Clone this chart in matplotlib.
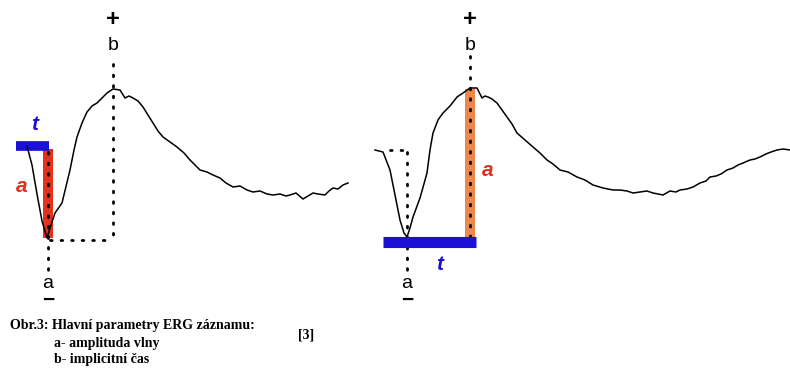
import numpy as np
import matplotlib.pyplot as plt

# ERG traces, traced in figure pixel units (x right, y down)
left_x = [27, 32, 37, 42, 47, 50, 55, 62, 70, 74, 77, 82, 87, 92, 97, 102, 107, 113, 120,
          125, 129, 133, 138, 143, 148, 153, 158, 163, 170, 177, 184, 190, 195, 200, 207,
          213, 220, 226, 233, 240, 247, 253, 260, 267, 273, 280, 286, 290, 296, 303, 308,
          313, 318, 325, 329, 333, 338, 343, 348]
left_y = [146, 165, 194, 221, 238, 228, 213, 203, 170, 150, 137, 123, 112, 106, 103, 98, 93,
          89, 90, 98, 96, 98, 101, 107, 115, 123, 131, 137, 142, 147, 153, 160, 165, 170,
          172, 175, 178, 183, 187, 186, 190, 192, 191, 194, 195, 194, 196, 195, 193, 199,
          196, 193, 194, 195, 191, 188, 189, 185, 183]

right_x = [375, 383, 390, 395, 400, 404, 407, 410, 413, 420, 427, 430, 433, 438, 443, 450,
           457, 463, 470, 477, 482, 485, 488, 492, 497, 502, 507, 512, 517, 525, 533, 540,
           547, 553, 560, 568, 577, 585, 593, 603, 613, 620, 627, 633, 640, 647, 653, 658,
           663, 670, 676, 680, 687, 693, 700, 706, 710, 716, 721, 727, 733, 738, 743, 750,
           755, 760, 766, 771, 777, 783, 790]
right_y = [150, 152, 170, 195, 220, 233, 237, 228, 217, 198, 173, 150, 133, 120, 113, 106,
           97, 93, 88, 88, 98, 96, 97, 99, 103, 110, 117, 124, 133, 140, 147, 153, 160, 164,
           170, 172, 177, 180, 185, 188, 190, 190, 191, 193, 192, 191, 193, 194, 195, 191,
           192, 190, 189, 187, 183, 181, 177, 176, 174, 170, 168, 165, 163, 160, 159, 157,
           154, 152, 150, 149, 150]

caption = ["Obr.3: Hlavní parametry ERG záznamu:", "a- amplituda vlny", "b- implicitní čas"]
ref_label = "[3]"

fig = plt.figure(figsize=(7.9, 3.78), dpi=100)
ax = fig.add_axes([0, 0, 1, 1])
ax.set_xlim(0, 790)
ax.set_ylim(378, 0)
ax.axis("off")

blue = "#1a10d8"
red = "#e0321e"
orange = "#f0874a"
dots = dict(color="black", lw=2.0, linestyle=(0, (0.6, 3.2)), dash_capstyle="round")

# left panel: implicit time bar and amplitude bar at the a-wave
ax.fill_between([43, 53], 149, 238, color=red, lw=0, zorder=1)
ax.plot([16, 49], [146, 146], color=blue, lw=7, solid_capstyle="butt", zorder=3)
ax.plot([113, 113], [64, 238], **dots)
ax.plot([50, 112], [240, 240], **dots)
ax.plot([48, 48], [152, 272], **dots)
ax.plot(left_x, left_y, color="black", lw=1.1, zorder=4)

# right panel: implicit time along the base, amplitude up to the b-wave
ax.fill_between([465, 475], 89, 237, color=orange, lw=0, zorder=1)
ax.plot([383, 476], [242, 242], color=blue, lw=8, solid_capstyle="butt", zorder=3)
ax.plot([470, 470], [56, 236], **dots)
ax.plot([390, 405], [150, 150], **dots)
ax.plot([407, 407], [152, 272], **dots)
ax.plot(right_x, right_y, color="black", lw=1.1, zorder=4)

sans = dict(family="Liberation Sans", ha="center", va="center")
for x in (113, 470):
    ax.text(x, 19, "+", fontsize=17, fontweight="bold", **sans)
    ax.text(x, 46, "b", fontsize=14, **sans)
for x in (48, 407):
    ax.text(x, 283, "a", fontsize=14, **sans)
    ax.text(x, 300, "−", fontsize=15, fontweight="bold", **sans)

ax.text(35, 125, "t", fontsize=15, color=blue, fontstyle="italic", fontweight="bold", **sans)
ax.text(22, 187, "a", fontsize=15, color=red, fontstyle="italic", fontweight="bold", **sans)
ax.text(440, 265, "t", fontsize=15, color=blue, fontstyle="italic", fontweight="bold", **sans)
ax.text(488, 171, "a", fontsize=15, color=red, fontstyle="italic", fontweight="bold", **sans)

serif = dict(family="Liberation Serif", fontweight="bold", fontsize=10, va="center")
ax.text(10, 326, caption[0], **serif)
ax.text(54, 343, caption[1], **serif)
ax.text(54, 360, caption[2], **serif)
ax.text(298, 335, ref_label, **serif)

fig.savefig("out.png", dpi=100)
